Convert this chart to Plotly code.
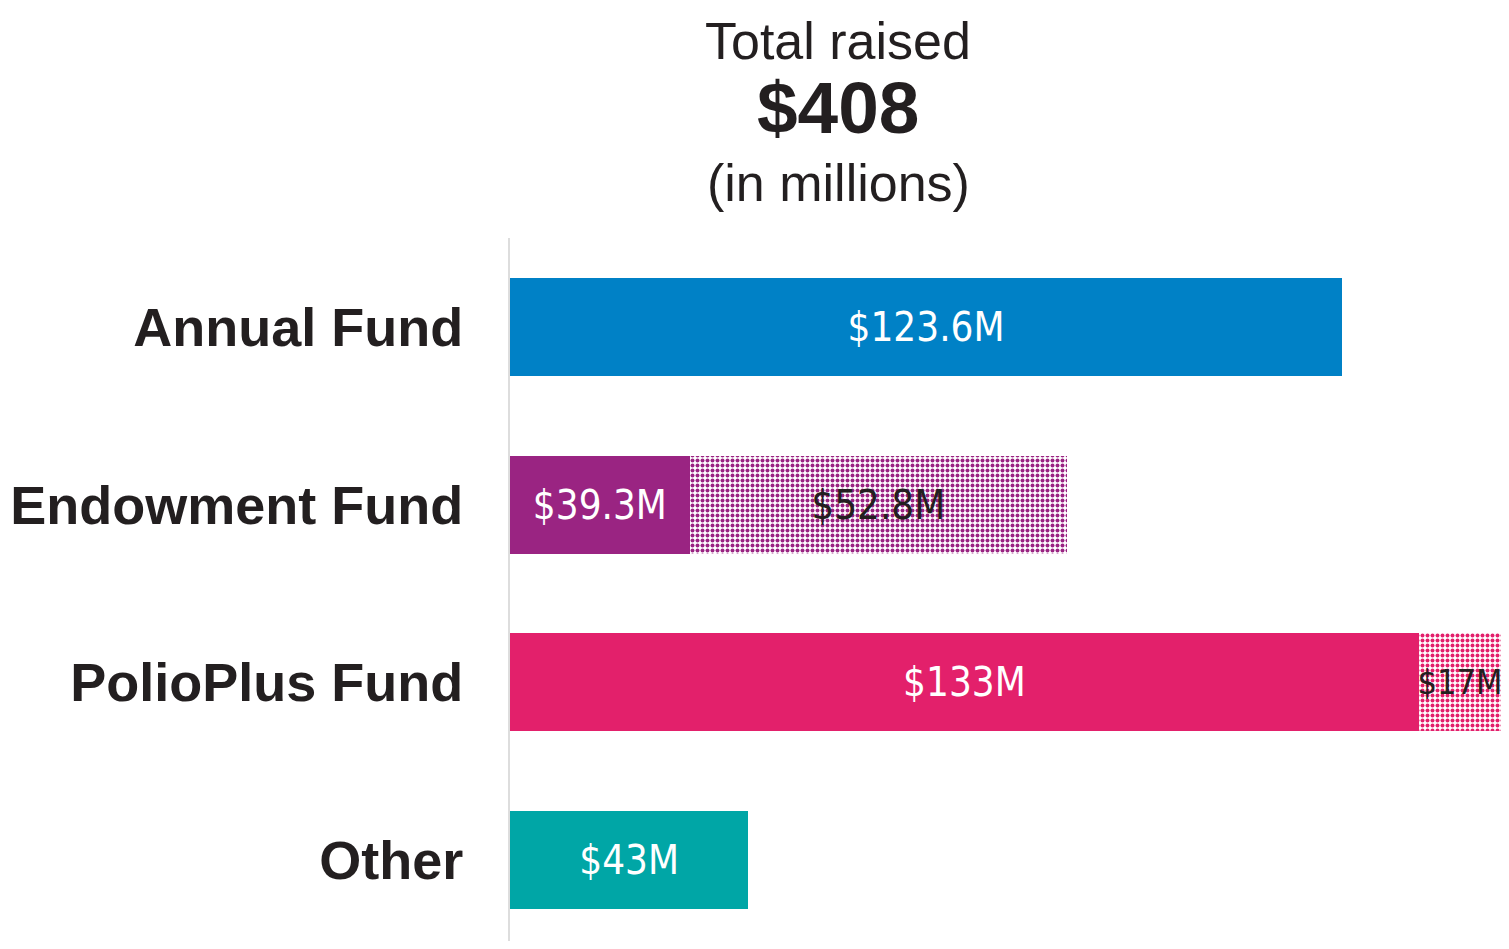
import plotly.graph_objects as go

# Data (bar lengths, labels as printed)
categories = ["Annual Fund", "Endowment Fund", "PolioPlus Fund", "Other"]
solid_lengths = [123.6, 26.7, 135.0, 35.4]
solid_labels = ["$123.6M", "$39.3M", "$133M", "$43M"]
solid_colors = ["#0081C6", "#9A2482", "#E3206B", "#00A6A6"]

hatched_categories = ["Endowment Fund", "PolioPlus Fund"]
hatched_lengths = [56.0, 12.2]
hatched_labels = ["$52.8M", "$17M"]
hatched_colors = ["#9A2482", "#E3206B"]

title_lines = ["Total raised", "$408", "(in millions)"]

label_font = "DejaVu Sans Condensed, Liberation Sans Narrow, Arial Narrow, sans-serif"
main_font = "Liberation Sans, Arial, Helvetica, sans-serif"

fig = go.Figure()

fig.add_trace(go.Bar(
    y=categories,
    x=solid_lengths,
    orientation="h",
    marker=dict(color=solid_colors, line=dict(width=0)),
    text=solid_labels,
    textposition="inside",
    insidetextanchor="middle",
    constraintext="none",
    textangle=0,
    textfont=dict(family=label_font, size=40, color="white"),
    hoverinfo="skip",
    showlegend=False,
))

fig.add_trace(go.Bar(
    y=hatched_categories,
    x=hatched_lengths,
    orientation="h",
    marker=dict(
        color=hatched_colors,
        line=dict(width=0),
        pattern=dict(shape=".", fgcolor=hatched_colors, bgcolor="white",
                     size=5, solidity=0.5, fillmode="replace"),
    ),
    text=hatched_labels,
    textposition="inside",
    insidetextanchor="middle",
    constraintext="none",
    textangle=0,
    # the last segment runs into the edge, so its label is a touch smaller
    textfont=dict(family=label_font, size=[40, 34], color="#231F20"),
    hoverinfo="skip",
    showlegend=False,
))

# title block above the bars (paper y is relative to the 703px plot height)
title_y = [1.2805, 1.185, 1.078]
title_sizes = [52, 73, 52]
title_bold = [False, True, False]
for txt, yy, sz, b in zip(title_lines, title_y, title_sizes, title_bold):
    fig.add_annotation(
        text="<b>%s</b>" % txt if b else txt,
        xref="paper", yref="paper", x=0.331, y=yy,
        xanchor="center", yanchor="middle",
        showarrow=False,
        font=dict(family=main_font, size=sz, color="#231F20"),
    )

# page has an 8px body margin, so keep the figure inside the window
fig.update_layout(
    width=1493,
    height=933,
    barmode="stack",
    bargap=0.45,
    margin=dict(l=502, r=0, t=230, b=0),
    paper_bgcolor="white",
    plot_bgcolor="white",
    showlegend=False,
)

fig.update_xaxes(
    range=[0, 147.2],
    visible=False,
    fixedrange=True,
)

fig.update_yaxes(
    categoryorder="array",
    categoryarray=categories,
    range=[3.455, -0.5],
    showline=True,
    linecolor="#DDDDDD",
    linewidth=2,
    showgrid=False,
    ticks="",
    ticklabelstandoff=34,
    tickfont=dict(family=main_font, size=54, color="#231F20", weight="bold"),
    fixedrange=True,
)

fig.write_html("out.html")
